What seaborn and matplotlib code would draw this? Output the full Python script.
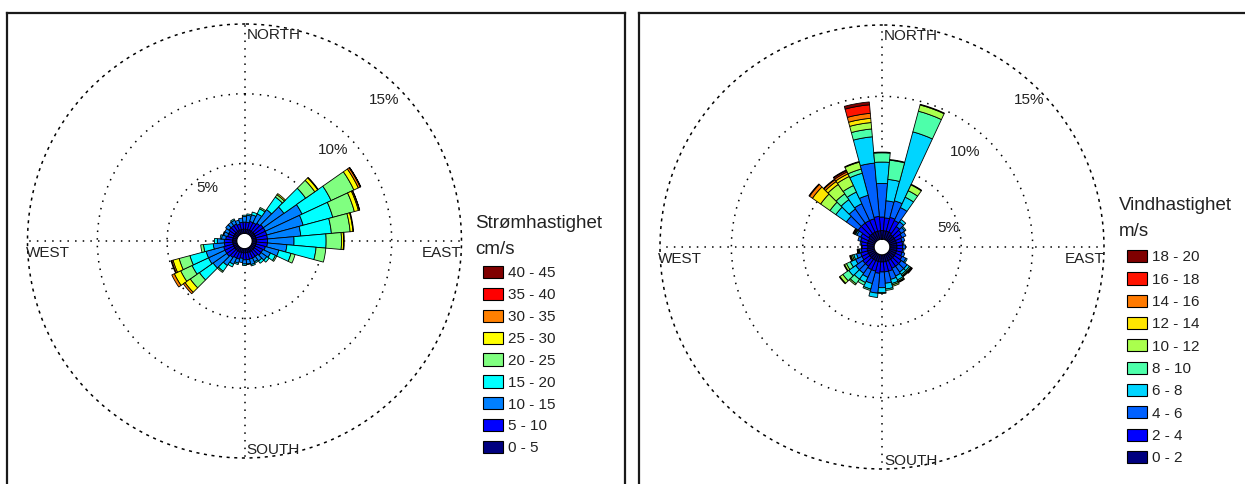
import numpy as np
import matplotlib
matplotlib.use("Agg")
import matplotlib.pyplot as plt
from matplotlib.patches import Patch
import seaborn as sns


# ============================================================
# DATA (percent of time per direction sector and speed class)
# ============================================================
directions = list(range(0, 360, 10))   # compass, sector centres

# --- Strømhastighet (cm/s) ---
cur_title = "Strømhastighet"
cur_unit = "cm/s"
cur_classes = ["0 - 5", "5 - 10", "10 - 15", "15 - 20", "20 - 25",
               "25 - 30", "30 - 35", "35 - 40", "40 - 45"]
cur_0_5 = [0.3, 0.3, 0.3, 0.3, 0.3, 0.3, 0.3, 0.3, 0.3, 0.3, 0.3, 0.3,
           0.3, 0.3, 0.3, 0.3, 0.3, 0.3, 0.3, 0.3, 0.3, 0.3, 0.3, 0.3,
           0.3, 0.3, 0.3, 0.3, 0.3, 0.3, 0.3, 0.3, 0.3, 0.3, 0.3, 0.3]
cur_5_10 = [0.5, 0.5, 0.6, 0.6, 0.7, 0.8, 0.8, 0.8, 0.8, 0.8, 0.8, 0.7,
            0.6, 0.6, 0.5, 0.5, 0.5, 0.5, 0.5, 0.4, 0.5, 0.5, 0.6, 0.7,
            0.7, 0.7, 0.6, 0.6, 0.5, 0.4, 0.4, 0.5, 0.5, 0.5, 0.4, 0.5]
cur_10_15 = [0.4, 0.5, 0.5, 0.7, 1.2, 1.8, 2.9, 2.7, 2.4, 1.9, 1.4, 1.0,
             0.6, 0.5, 0.4, 0.3, 0.4, 0.3, 0.3, 0.3, 0.3, 0.5, 0.7, 1.2,
             1.3, 1.3, 0.8, 0.5, 0.3, 0.3, 0.3, 0.3, 0.3, 0.3, 0.3, 0.3]
cur_15_20 = [0.1, 0.1, 0.2, 0.4, 1.1, 1.9, 2.3, 2.2, 2.2, 2.3, 2.1, 0.9,
             0.4, 0.2, 0.2, 0.1, 0.1, 0.05, 0.1, 0.0, 0.1, 0.2, 0.5, 1.2,
             1.3, 1.2, 0.7, 0.2, 0.1, 0.05, 0.0, 0.0, 0.0, 0.1, 0.0, 0.0]
cur_20_25 = [0.0, 0.0, 0.0, 0.1, 0.2, 0.8, 1.8, 1.6, 1.35, 1.1, 0.7, 0.3,
             0.1, 0.0, 0.0, 0.0, 0.0, 0.0, 0.0, 0.0, 0.0, 0.0, 0.1, 0.8,
             0.9, 0.8, 0.2, 0.0, 0.0, 0.0, 0.0, 0.0, 0.0, 0.0, 0.0, 0.0]
cur_25_30 = [0.0, 0.0, 0.0, 0.0, 0.1, 0.25, 0.35, 0.3, 0.2, 0.15, 0.0, 0.0,
             0.0, 0.0, 0.0, 0.0, 0.0, 0.0, 0.0, 0.0, 0.0, 0.0, 0.0, 0.45,
             0.5, 0.45, 0.0, 0.0, 0.0, 0.0, 0.0, 0.0, 0.0, 0.0, 0.0, 0.0]
cur_30_35 = [0.0, 0.0, 0.0, 0.0, 0.0, 0.05, 0.15, 0.08, 0.05, 0.05, 0.0, 0.0,
             0.0, 0.0, 0.0, 0.0, 0.0, 0.0, 0.0, 0.0, 0.0, 0.0, 0.0, 0.15,
             0.2, 0.1, 0.0, 0.0, 0.0, 0.0, 0.0, 0.0, 0.0, 0.0, 0.0, 0.0]
cur_35_40 = [0.0, 0.0, 0.0, 0.0, 0.0, 0.0, 0.03, 0.02, 0.0, 0.0, 0.0, 0.0,
             0.0, 0.0, 0.0, 0.0, 0.0, 0.0, 0.0, 0.0, 0.0, 0.0, 0.0, 0.0,
             0.0, 0.05, 0.0, 0.0, 0.0, 0.0, 0.0, 0.0, 0.0, 0.0, 0.0, 0.0]
cur_40_45 = [0.0, 0.0, 0.0, 0.0, 0.0, 0.0, 0.02, 0.0, 0.0, 0.0, 0.0, 0.0,
             0.0, 0.0, 0.0, 0.0, 0.0, 0.0, 0.0, 0.0, 0.0, 0.0, 0.0, 0.0,
             0.0, 0.0, 0.0, 0.0, 0.0, 0.0, 0.0, 0.0, 0.0, 0.0, 0.0, 0.0]

# --- Vindhastighet (m/s) ---
wind_title = "Vindhastighet"
wind_unit = "m/s"
wind_classes = ["0 - 2", "2 - 4", "4 - 6", "6 - 8", "8 - 10",
                "10 - 12", "12 - 14", "14 - 16", "16 - 18", "18 - 20"]
wind_0_2 = [0.6, 0.6, 0.6, 0.6, 0.5, 0.5, 0.5, 0.5, 0.5, 0.5, 0.5, 0.5,
            0.5, 0.5, 0.5, 0.5, 0.5, 0.5, 0.5, 0.5, 0.5, 0.5, 0.5, 0.5,
            0.5, 0.5, 0.5, 0.45, 0.5, 0.5, 0.5, 0.6, 0.6, 0.6, 0.6, 0.6]
wind_2_4 = [0.95, 0.9, 1.0, 0.9, 0.7, 0.6, 0.5, 0.4, 0.4, 0.4, 0.4, 0.4,
            0.5, 0.6, 0.6, 0.6, 0.7, 0.7, 0.7, 0.8, 0.7, 0.7, 0.6, 0.6,
            0.5, 0.5, 0.4, 0.4, 0.4, 0.5, 0.6, 0.9, 0.9, 0.9, 0.9, 1.0]
wind_4_6 = [2.35, 1.2, 1.2, 1.0, 0.4, 0.3, 0.3, 0.2, 0.1, 0.2, 0.1, 0.2,
            0.3, 0.5, 0.5, 0.6, 0.6, 0.8, 1.1, 1.4, 0.9, 0.6, 0.6, 0.6,
            0.5, 0.3, 0.15, 0.05, 0.1, 0.2, 0.3, 1.0, 1.2, 1.3, 1.7, 3.75]
wind_6_8 = [1.5, 1.5, 5.0, 0.8, 0.2, 0.1, 0.0, 0.0, 0.0, 0.0, 0.0, 0.0,
            0.1, 0.2, 0.2, 0.3, 0.3, 0.4, 0.35, 0.3, 0.4, 0.4, 0.5, 0.6,
            0.4, 0.2, 0.05, 0.0, 0.0, 0.0, 0.1, 0.9, 0.8, 0.9, 1.6, 1.85]
wind_8_10 = [0.65, 1.35, 1.5, 0.5, 0.0, 0.0, 0.0, 0.0, 0.0, 0.0, 0.0, 0.0,
             0.0, 0.1, 0.1, 0.1, 0.1, 0.1, 0.05, 0.0, 0.1, 0.2, 0.4, 0.5,
             0.3, 0.1, 0.05, 0.0, 0.0, 0.0, 0.05, 0.5, 0.5, 0.5, 0.3, 0.55]
wind_10_12 = [0.05, 0.05, 0.45, 0.45, 0.0, 0.0, 0.0, 0.0, 0.0, 0.0, 0.0, 0.0,
              0.0, 0.05, 0.05, 0.05, 0.1, 0.0, 0.0, 0.0, 0.0, 0.0, 0.1, 0.25,
              0.15, 0.1, 0.03, 0.0, 0.0, 0.0, 0.05, 0.8, 0.8, 0.7, 0.5, 0.45]
wind_12_14 = [0.0, 0.0, 0.05, 0.05, 0.0, 0.0, 0.0, 0.0, 0.0, 0.0, 0.0, 0.0,
              0.0, 0.05, 0.05, 0.05, 0.0, 0.0, 0.0, 0.0, 0.0, 0.0, 0.0, 0.05,
              0.05, 0.05, 0.02, 0.0, 0.0, 0.0, 0.05, 0.7, 0.25, 0.2, 0.05, 0.3]
wind_14_16 = [0.0, 0.0, 0.0, 0.0, 0.0, 0.0, 0.0, 0.0, 0.0, 0.0, 0.0, 0.0,
              0.0, 0.0, 0.0, 0.0, 0.0, 0.0, 0.0, 0.0, 0.0, 0.0, 0.0, 0.0,
              0.0, 0.05, 0.0, 0.0, 0.0, 0.0, 0.05, 0.25, 0.15, 0.15, 0.0, 0.35]
wind_16_18 = [0.0, 0.0, 0.0, 0.0, 0.0, 0.0, 0.0, 0.0, 0.0, 0.0, 0.0, 0.0,
              0.0, 0.05, 0.0, 0.0, 0.0, 0.0, 0.0, 0.0, 0.0, 0.0, 0.0, 0.0,
              0.0, 0.0, 0.0, 0.0, 0.0, 0.0, 0.0, 0.05, 0.05, 0.1, 0.0, 0.6]
wind_18_20 = [0.0, 0.0, 0.0, 0.0, 0.0, 0.0, 0.0, 0.0, 0.0, 0.0, 0.0, 0.0,
              0.0, 0.0, 0.0, 0.0, 0.0, 0.0, 0.0, 0.0, 0.0, 0.0, 0.0, 0.0,
              0.0, 0.0, 0.0, 0.0, 0.0, 0.0, 0.0, 0.0, 0.0, 0.05, 0.0, 0.2]

cur_values = [cur_0_5, cur_5_10, cur_10_15, cur_15_20, cur_20_25,
              cur_25_30, cur_30_35, cur_35_40, cur_40_45]
wind_values = [wind_0_2, wind_2_4, wind_4_6, wind_6_8, wind_8_10,
               wind_10_12, wind_12_14, wind_14_16, wind_16_18, wind_18_20]

ring_labels = ["5%", "10%", "15%"]


# ============================================================
# HJELPEFUNKSJONER
# ============================================================
W, H = 1245, 484
DOT = (0, (1, 4))
TXT = "#222222"


def fig_rect(x, y_top, w, h):
    # pixel box (from top-left) -> figure fraction
    return [x / W, 1 - (y_top + h) / H, w / W, h / H]


def draw_frame(fig, x0, x1):
    ax = fig.add_axes([x0 / W, -0.1, (x1 - x0) / W, 1.1 - 12.5 / H])
    ax.set_xticks([])
    ax.set_yticks([])
    for s in ax.spines.values():
        s.set_color("#1a1a1a")
        s.set_linewidth(1.6)
    ax.set_zorder(0)
    return ax


def draw_rose(fig, cx, cy, radius, values, classes, colors,
              ring_pos, title, unit, legend_xy, title_y, spacing):
    ax = fig.add_axes(fig_rect(cx - radius, cy - radius, 2 * radius, 2 * radius),
                      projection="polar")
    ax.set_zorder(2)
    ax.set_theta_zero_location("N")
    ax.set_theta_direction(-1)

    theta = np.deg2rad(directions)
    width = np.deg2rad(10)
    bottom = np.zeros(len(directions))
    for vals, col in zip(values, colors):
        vals = np.asarray(vals)
        keep = vals > 0
        ax.bar(theta[keep], vals[keep], width=width, bottom=bottom[keep],
               color=col, edgecolor="black", linewidth=0.6, zorder=3)
        bottom += vals

    ax.set_ylim(0, 15)
    ax.set_rorigin(-0.55)
    ax.set_rgrids([5, 10], labels=["", ""])
    ax.set_thetagrids([0, 90, 180, 270], labels=["", "", "", ""])
    ax.grid(True, color="black", linestyle=DOT, linewidth=1.1)
    ax.set_axisbelow(True)
    ax.spines["polar"].set_linestyle(DOT)
    ax.spines["polar"].set_linewidth(1.1)
    ax.spines["polar"].set_edgecolor("black")
    if "inner" in ax.spines:
        ax.spines["inner"].set_linewidth(0.8)
        ax.spines["inner"].set_edgecolor("black")

    # percent labels on the rings
    for lab, (ang, r) in zip(ring_labels, ring_pos):
        ax.text(np.deg2rad(ang), r, lab, ha="center", va="center",
                fontsize=11, color=TXT, zorder=5)

    # compass labels
    kw = dict(textcoords="offset pixels", fontsize=11, color=TXT,
              va="center", annotation_clip=False)
    ax.annotate("NORTH", xy=(0, 15), xytext=(2, -11), ha="left", **kw)
    ax.annotate("SOUTH", xy=(np.pi, 15), xytext=(2, 8), ha="left", **kw)
    ax.annotate("WEST", xy=(1.5 * np.pi, 15), xytext=(-2, -12), ha="left", **kw)
    ax.annotate("EAST", xy=(0.5 * np.pi, 15), xytext=(0, -12), ha="right", **kw)

    # legend
    tx, ty = legend_xy
    fig.text(tx / W, 1 - title_y / H, title, fontsize=13.5, color=TXT,
             ha="left", va="center")
    fig.text(tx / W, 1 - (title_y + 26) / H, unit, fontsize=13.5, color=TXT,
             ha="left", va="center")
    handles = [Patch(facecolor=c, edgecolor="black", linewidth=0.8)
               for c in colors][::-1]
    ax.legend(handles, classes[::-1], loc="upper left",
              bbox_to_anchor=((tx + 8) / W, 1 - ty / H),
              bbox_transform=fig.transFigure, frameon=False, fontsize=11,
              handlelength=1.3, handleheight=0.85, handletextpad=0.35,
              labelspacing=spacing, borderpad=0, borderaxespad=0,
              labelcolor=TXT)
    return ax


# ============================================================
# PLOT
# ============================================================
sns.set_style("white")
plt.rcParams["font.family"] = ["Liberation Sans", "DejaVu Sans"]

jet = matplotlib.colormaps["jet"]
cur_colors = ["#000080", "#0000ff", "#0080ff", "#00ffff", "#80ff80",
              "#ffff00", "#ff8000", "#ff0000", "#800000"]
wind_colors = [jet(x) for x in np.linspace(0, 1, len(wind_classes))]

fig = plt.figure(figsize=(W / 100, H / 100), dpi=100)

draw_frame(fig, 7, 625)
draw_frame(fig, 639, 1260)

draw_rose(fig, 244.5, 241, 217, cur_values, cur_classes, cur_colors,
          ring_pos=[(325, 4.05), (44, 8.55), (44.6, 13.65)],
          title=cur_title, unit=cur_unit, legend_xy=(475, 266), title_y=223,
          spacing=0.49)

draw_rose(fig, 882, 247, 222, wind_values, wind_classes, wind_colors,
          ring_pos=[(74, 4.3), (41, 8.3), (45, 14.0)],
          title=wind_title, unit=wind_unit, legend_xy=(1119, 250), title_y=206,
          spacing=0.52)

plt.savefig("out.png", dpi=100)
plt.close()
